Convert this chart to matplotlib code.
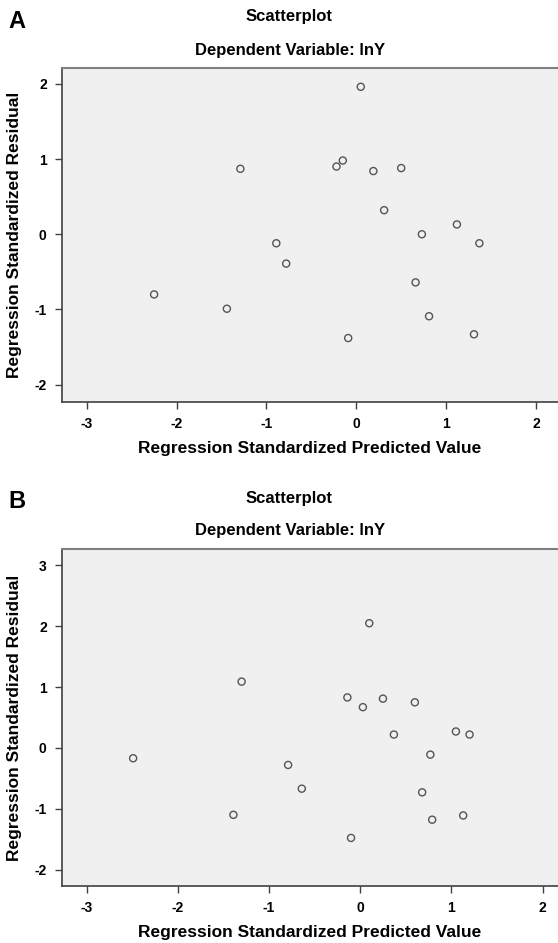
import matplotlib
matplotlib.use("Agg")
import matplotlib.pyplot as plt

plt.rcParams['font.family'] = ['Liberation Sans', 'DejaVu Sans']
plt.rcParams['axes.unicode_minus'] = False

# panel A data (predicted value, residual)
a_pred = [-2.25, -1.44, -1.29, -0.89, -0.78, 0.05, -0.22, -0.15, 0.19,
          0.50, 0.31, 0.73, 1.12, 1.37, 0.66, 0.81, -0.09, 1.31]
a_resid = [-0.80, -0.99, 0.87, -0.12, -0.39, 1.96, 0.90, 0.98, 0.84,
           0.88, 0.32, 0.00, 0.13, -0.12, -0.64, -1.09, -1.38, -1.33]

# panel B data
b_pred = [-2.49, -1.39, -1.30, 0.10, -0.14, 0.25, 0.60, 0.03, 0.37,
          1.05, 1.20, 0.77, -0.79, -0.64, 0.68, 0.79, 1.13, -0.10]
b_resid = [-0.17, -1.10, 1.09, 2.05, 0.83, 0.81, 0.75, 0.67, 0.22,
           0.27, 0.22, -0.11, -0.28, -0.67, -0.73, -1.18, -1.11, -1.48]

a_yticks = [-2, -1, 0, 1, 2]
b_yticks = [-2, -1, 0, 1, 2, 3]
xticks = [-3, -2, -1, 0, 1, 2]

W, H = 558, 943
fig = plt.figure(figsize=(W / 100, H / 100), dpi=100)


def panel(letter, box, x, y, xlim, ylim, yticks, title_y):
    left, top, right, bottom = box
    ax = fig.add_axes([left / W, 1 - bottom / H, (right - left) / W, (bottom - top) / H])
    ax.set_facecolor("#f0f0f0")
    ax.scatter(x, y, s=26, facecolors="none", edgecolors="#555555", linewidths=1.0)
    ax.set_xlim(*xlim)
    ax.set_ylim(*ylim)
    ax.set_xticks(xticks)
    ax.set_yticks(yticks)
    ax.spines["right"].set_visible(False)
    ax.spines["top"].set_color("#808080")
    ax.spines["top"].set_linewidth(1.5)
    for s in ["left", "bottom"]:
        ax.spines[s].set_color("#404040")
        ax.spines[s].set_linewidth(1.2)
    ax.tick_params(direction="out", length=5, width=1, color="#404040",
                   labelsize=10, pad=6)
    for lab in ax.get_xticklabels() + ax.get_yticklabels():
        lab.set_fontweight("bold")
    ax.set_xlabel("Regression Standardized Predicted Value", fontsize=12.5,
                  fontweight="bold", labelpad=7)
    ax.set_ylabel("Regression Standardized Residual", fontsize=12.5,
                  fontweight="bold", labelpad=9)
    fig.text(289 / W, 1 - title_y / H, "Scatterplot", ha="center", va="center",
             fontsize=12, fontweight="bold")
    fig.text(290 / W, 1 - (title_y + 33) / H, "Dependent Variable: lnY", ha="center",
             va="center", fontsize=12, fontweight="bold")
    fig.text(8 / W, 1 - (title_y + 4) / H, letter, ha="left", va="center",
             fontsize=17, fontweight="bold")
    return ax


panel("A", (62, 68, 558, 402), a_pred, a_resid, (-3.275, 2.245), (-2.23, 2.21),
      a_yticks, 17)
panel("B", (62, 549, 558, 886), b_pred, b_resid, (-3.27, 2.17), (-2.27, 3.27),
      b_yticks, 498)

fig.savefig("out.png", dpi=100)
